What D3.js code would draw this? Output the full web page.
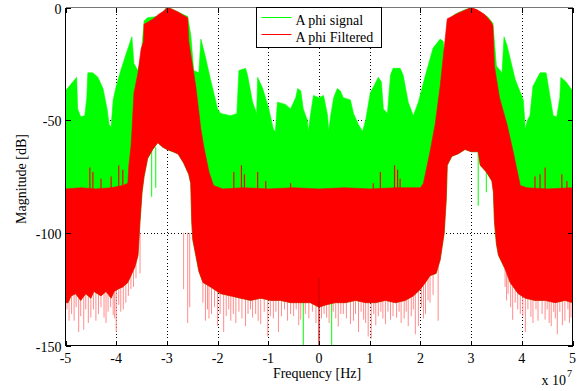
<!DOCTYPE html>
<html>
<head>
<meta charset="utf-8">
<script src="https://cdn.jsdelivr.net/npm/d3@7"></script>
<style>
  html, body { margin: 0; padding: 0; background: #fff; }
  svg { display: block; }
  svg text { font-family: "Liberation Serif", "Times New Roman", Times, serif; fill: #000; }
</style>
</head>
<body>
<svg id="chart" width="579" height="391" font-family="Liberation Serif, Times New Roman, serif"></svg>
<script>
// Frequency in units of 1e7 Hz, magnitude in dB.
// Upper envelope of the raw signal spectrum.
const signalUpper = [
  [-5.0,-37],[-4.89,-34],[-4.78,-31],[-4.76,-45],[-4.70,-48.5],[-4.62,-48],[-4.58,-40],[-4.56,-29],
  [-4.46,-29],[-4.36,-31],[-4.26,-36],[-4.18,-45],[-4.14,-52],[-4.10,-53],[-4.06,-41],[-4.00,-35],
  [-3.91,-28],[-3.81,-21],[-3.69,-13],[-3.65,-25],[-3.57,-28],[-3.51,-22],[-3.45,-6],[-3.38,-4.5],
  [-3.18,-4],[-3.06,-1.5],[-3.00,0],[-2.92,-0.5],[-2.73,-2.5],[-2.59,-4],[-2.53,-12],[-2.47,-28],
  [-2.37,-29],[-2.33,-14],[-2.24,-22],[-2.14,-32],[-2.00,-45],[-1.94,-47],[-1.74,-48],[-1.62,-47],
  [-1.58,-28],[-1.45,-27],[-1.41,-30],[-1.31,-42],[-1.23,-47],[-1.21,-31],[-1.11,-36],[-0.99,-45],
  [-0.90,-54],[-0.86,-55],[-0.82,-42],[-0.66,-43],[-0.56,-45],[-0.46,-40],[-0.42,-36],[-0.36,-37],
  [-0.31,-45],[-0.23,-50],[-0.21,-55],[-0.17,-48],[-0.11,-39],[0,-40],[0.09,-39],[0.17,-48],
  [0.19,-55],[0.23,-48],[0.29,-40],[0.36,-36],[0.42,-37],[0.48,-40],[0.62,-41],[0.68,-47],
  [0.78,-52],[0.86,-55],[0.92,-50],[1.01,-38],[1.17,-31],[1.23,-33],[1.27,-45],[1.35,-47],
  [1.41,-30],[1.46,-27],[1.60,-27],[1.66,-30],[1.76,-42],[1.86,-48],[1.96,-42],[2.10,-30],
  [2.25,-18],[2.39,-14],[2.45,-15],[2.49,-24],[2.53,-6],[2.68,-3],[2.88,-1],[3.00,0],
  [3.14,-1.5],[3.32,-4],[3.43,-7],[3.50,-26],[3.61,-29],[3.65,-13],[3.71,-17],[3.87,-32],
  [4.03,-41],[4.07,-54],[4.11,-50],[4.16,-48],[4.22,-35],[4.36,-29],[4.48,-29],[4.56,-40],
  [4.62,-48],[4.69,-48.5],[4.75,-40],[4.77,-31],[4.87,-33],[5.0,-37]
];

// Upper envelope of the filtered spectrum.
const filteredUpper = [
  [-5.0,-80.5],[-4.7,-80],[-4.4,-80.5],[-4.1,-80],[-3.87,-79],[-3.77,-78],[-3.75,-70],[-3.71,-62],
  [-3.69,-55],[-3.65,-38],[-3.57,-29],[-3.51,-18.5],[-3.46,-15],[-3.45,-7.4],[-3.38,-6.6],[-3.28,-5.2],
  [-3.16,-3],[-3.06,-1.6],[-3.0,0],[-2.92,-0.5],[-2.78,-2],[-2.67,-3.5],[-2.59,-4.5],[-2.57,-15],
  [-2.43,-35],[-2.33,-54],[-2.27,-62],[-2.17,-73],[-2.08,-79],[-1.9,-80.5],[-1.5,-80],[-1.0,-80.5],
  [-0.5,-80],[0,-80.5],[0.5,-80],[1.0,-80.5],[1.5,-80],[2.0,-80],[2.06,-78],[2.19,-64],
  [2.29,-52],[2.39,-35],[2.53,-5],[2.62,-4],[2.74,-2.5],[2.90,-1],[3.0,0],[3.12,-1],
  [3.26,-3],[3.38,-6],[3.43,-8],[3.46,-26],[3.56,-40],[3.71,-52],[3.83,-64],[3.97,-79],
  [4.1,-80],[4.5,-80.5],[5.0,-80]
];

// Lower envelope of the filtered spectrum (noise floor and in-band floor).
const filteredLower = [
  [-5.0,-131],[-4.95,-131],[-4.89,-128],[-4.80,-127],[-4.70,-130],[-4.60,-127],[-4.50,-129],[-4.44,-126],
  [-4.30,-128],[-4.20,-126],[-4.10,-129],[-4.04,-126],[-3.97,-125],[-3.87,-124],[-3.77,-122],[-3.69,-118],
  [-3.63,-115],[-3.57,-110],[-3.53,-95],[-3.49,-82],[-3.45,-75],[-3.38,-67],[-3.28,-63],[-3.18,-60],
  [-3.08,-62],[-3.0,-63],[-2.88,-64],[-2.78,-65],[-2.67,-69],[-2.57,-74],[-2.53,-78],[-2.51,-95],
  [-2.49,-103],[-2.43,-110],[-2.37,-117],[-2.29,-122],[-2.14,-124],[-1.94,-127],[-1.74,-128],[-1.55,-129],
  [-1.35,-130],[-1.15,-129],[-0.95,-130],[-0.76,-130],[-0.56,-131],[-0.36,-131],[-0.17,-131],[0,-133],
  [0.13,-132],[0.32,-131],[0.52,-131],[0.72,-130],[0.92,-131],[1.11,-131],[1.31,-130],[1.51,-131],
  [1.70,-130],[1.86,-128],[2.0,-125],[2.10,-122],[2.19,-119],[2.31,-118],[2.39,-112],[2.47,-100],
  [2.51,-85],[2.53,-70],[2.62,-66],[2.74,-65],[2.88,-63],[3.0,-64],[3.14,-64],[3.18,-70],
  [3.30,-73],[3.41,-77],[3.44,-82],[3.46,-95],[3.50,-105],[3.54,-110],[3.67,-116],[3.77,-122],
  [3.93,-127],[4.07,-129],[4.26,-130],[4.46,-130],[4.66,-131],[4.85,-130],[5.0,-131]
];

// Deep single-bin minima of the filtered spectrum.
const filteredDips = [
  [-4.97,-134],[-4.93,-139],[-4.88,-136],[-4.83,-139],[-4.79,-133],[-4.74,-144],[-4.70,-137],
  [-4.64,-143],[-4.60,-134],[-4.55,-140],[-4.50,-137.6],[-4.45,-134],[-4.40,-139],[-4.35,-136],
  [-4.30,-133],[-4.24,-137.6],[-4.20,-140],[-4.16,-135],[-4.11,-133],[-4.06,-136.5],[-4.03,-138],
  [-4.00,-144],[-3.95,-132],[-3.91,-135],[-3.86,-134],[-3.81,-131],[-3.76,-128],[-3.71,-125],
  [-3.66,-124],[-3.61,-120],[-3.53,-118],[-2.67,-125],[-2.59,-140],[-2.55,-133],
  [-2.29,-131],[-2.24,-139],[-2.20,-134],[-2.17,-138],[-2.12,-136],[-2.06,-133],[-2.00,-141.4],
  [-1.95,-136],[-1.88,-144],[-1.83,-137],[-1.78,-134],[-1.74,-139],[-1.69,-136],[-1.64,-140],
  [-1.58,-135],[-1.52,-138],[-1.45,-141.4],[-1.40,-136],[-1.35,-134],[-1.31,-137.6],[-1.25,-136],
  [-1.20,-139],[-1.15,-140.5],[-1.08,-135],[-1.01,-146],[-0.96,-137],[-0.90,-138],[-0.85,-135],
  [-0.80,-144],[-0.74,-137],[-0.68,-134],[-0.62,-139],[-0.56,-136],[-0.50,-137],[-0.45,-134],
  [-0.40,-141],[-0.36,-138.5],[-0.27,-136],[-0.20,-138],[-0.13,-135],[-0.06,-140],[0.05,-138],
  [0.10,-136],[0.15,-137.6],[0.20,-140],[0.28,-135],[0.33,-138],[0.38,-141.6],[0.43,-136],
  [0.48,-136],[0.54,-138],[0.62,-140.5],[0.68,-139],[0.72,-136],[0.78,-144],[0.83,-135],
  [0.88,-138.5],[0.92,-140],[0.97,-146],[1.03,-147],[1.08,-136],[1.12,-141],[1.17,-137],
  [1.22,-135],[1.26,-138],[1.31,-140.5],[1.36,-135],[1.41,-138.5],[1.46,-137],[1.53,-137.6],
  [1.58,-135],[1.62,-140],[1.68,-138],[1.72,-135],[1.76,-141.4],[1.82,-137],[1.86,-134],
  [1.90,-145],[1.96,-141.4],[2.02,-133],[2.06,-138],[2.10,-136],[2.15,-130],[2.19,-131],
  [2.25,-127.5],[2.35,-139],[3.67,-124],[3.70,-130],[3.73,-127],[3.78,-133],[3.82,-138.6],
  [3.87,-131],[3.92,-134],[3.97,-136],[4.02,-137],[4.07,-144],[4.12,-134],[4.18,-137.3],
  [4.22,-140],[4.28,-134],[4.32,-139],[4.40,-136],[4.46,-138.5],[4.50,-134],[4.54,-140],
  [4.58,-141.4],[4.63,-135],[4.66,-138],[4.70,-145],[4.75,-135],[4.80,-141],[4.85,-139],
  [4.91,-134],[4.94,-140],[4.97,-137.6]
];

// DC null of the filtered spectrum.
const filteredNulls = [[0,-150]];

// Narrow maxima of the filtered spectrum above its stop-band floor.
const filteredPeaks = [
  [-4.52,-71],[-4.46,-73],[-4.30,-76],[-4.10,-75],[-3.95,-70],[-3.87,-72],[-1.68,-73],[-1.53,-70],
  [-1.47,-74],[-1.21,-73],[-1.05,-77],[-0.56,-78],[1.07,-78],[1.21,-73],[1.49,-70],[1.55,-72],
  [1.60,-76],[4.26,-75],[4.36,-74],[4.46,-71],[4.79,-74],[4.89,-77]
];

// Deep minima of the raw signal spectrum.
const signalDips = [[-0.31,-150],[0.25,-150],[-3.30,-84],[-3.22,-80],[3.14,-88],[3.30,-82]];

const xTicks = [-5,-4,-3,-2,-1,0,1,2,3,4,5];
const yTicks = [-150,-100,-50,0];
const seriesNames = ["A phi signal", "A phi Filtered"];
const xLabel = "Frequency [Hz]";
const yLabel = "Magnitude [dB]";

const GREEN = "#00ff00", RED = "#ff0000", PINK = "#ff8c8c";
const FONT = "Liberation Serif";

const svg = d3.select("#chart");
const L = 65.5, R = 572.5, T = 7.5, B = 345.5;
const x = d3.scaleLinear().domain([-5, 5]).range([L, R]);
const y = d3.scaleLinear().domain([-150, 0]).range([B, T]);

svg.append("rect").attr("width", 579).attr("height", 391).attr("fill", "#fff");

const clip = svg.append("defs").append("clipPath").attr("id", "plot");
clip.append("rect").attr("x", L).attr("y", T).attr("width", R - L).attr("height", B - T);

// dotted grid behind the data
const grid = svg.append("g").attr("stroke", "#000").attr("stroke-width", 1)
  .attr("stroke-dasharray", "1,2.4").attr("shape-rendering", "crispEdges");
xTicks.slice(1, -1).forEach(t => grid.append("line")
  .attr("x1", Math.round(x(t)) + 0.5).attr("x2", Math.round(x(t)) + 0.5).attr("y1", T).attr("y2", B));
yTicks.slice(1, -1).forEach(t => grid.append("line")
  .attr("y1", Math.round(y(t)) + 0.5).attr("y2", Math.round(y(t)) + 0.5).attr("x1", L).attr("x2", R));
grid.append("line").attr("x1", L).attr("x2", R).attr("y1", T).attr("y2", T);

const plot = svg.append("g").attr("clip-path", "url(#plot)");
const line = d3.line().x(d => x(d[0])).y(d => y(d[1]));
const band = (upper, lower) => line(upper.concat(lower.slice().reverse())) + "Z";

// raw signal band
plot.append("path").attr("d", band(signalUpper, filteredLower))
  .attr("fill", GREEN).attr("stroke", GREEN).attr("stroke-width", 0.6);

// minima drawn under the filtered band so only their tails show
plot.append("g").selectAll("line").data(signalDips).join("line")
  .attr("x1", d => x(d[0])).attr("x2", d => x(d[0]))
  .attr("y1", d => y(d[1] < -100 ? -120 : -62)).attr("y2", d => y(d[1]))
  .attr("stroke", GREEN).attr("stroke-width", 1);
plot.append("g").selectAll("line").data(filteredDips).join("line")
  .attr("x1", d => x(d[0])).attr("x2", d => x(d[0]))
  .attr("y1", y(-100)).attr("y2", d => y(d[1]))
  .attr("stroke", PINK).attr("stroke-width", 1);

// filtered band
plot.append("path").attr("d", band(filteredUpper, filteredLower))
  .attr("fill", RED).attr("stroke", RED).attr("stroke-width", 0.6);

plot.append("g").selectAll("line").data(filteredPeaks).join("line")
  .attr("x1", d => x(d[0])).attr("x2", d => x(d[0]))
  .attr("y1", y(-81)).attr("y2", d => y(d[1]))
  .attr("stroke", RED).attr("stroke-width", 1.2);
plot.append("g").selectAll("line").data(filteredNulls).join("line")
  .attr("x1", d => x(d[0])).attr("x2", d => x(d[0]))
  .attr("y1", y(-120)).attr("y2", d => y(d[1]))
  .attr("stroke", "#cc0000").attr("stroke-width", 1.2);

// axes box with inward ticks on all four sides
const ax = svg.append("g").attr("stroke", "#000").attr("stroke-width", 1).attr("shape-rendering", "crispEdges");
ax.append("line").attr("x1", L).attr("x2", R).attr("y1", B).attr("y2", B);
ax.append("line").attr("x1", L).attr("x2", L).attr("y1", T).attr("y2", B);
ax.append("line").attr("x1", R).attr("x2", R).attr("y1", T).attr("y2", B);
ax.append("line").attr("x1", L).attr("x2", R).attr("y1", T).attr("y2", T).attr("stroke", "#777");
const TL = 5;
xTicks.forEach(t => {
  const px = Math.round(x(t)) + 0.5;
  ax.append("line").attr("x1", px).attr("x2", px).attr("y1", B).attr("y2", B - TL);
  ax.append("line").attr("x1", px).attr("x2", px).attr("y1", T).attr("y2", T + TL);
});
yTicks.forEach(t => {
  const py = Math.round(y(t)) + 0.5;
  ax.append("line").attr("x1", L).attr("x2", L + TL).attr("y1", py).attr("y2", py);
  ax.append("line").attr("x1", R).attr("x2", R - TL).attr("y1", py).attr("y2", py);
});

const FS = 14;
svg.append("g").selectAll("text").data(xTicks).join("text")
  .attr("font-family", FONT)
  .attr("x", d => x(d)).attr("y", 362.5).attr("text-anchor", "middle")
  .attr("font-size", FS).text(d => d);
svg.append("g").selectAll("text").data(yTicks).join("text")
  .attr("font-family", FONT)
  .attr("x", 61.5).attr("y", d => y(d) + 6).attr("text-anchor", "end")
  .attr("font-size", FS).text(d => d);

svg.append("text").attr("font-family", FONT).attr("x", 317).attr("y", 377.5).attr("text-anchor", "middle")
  .attr("font-size", 14).text(xLabel);
svg.append("text").attr("font-family", FONT).attr("transform", "translate(26,179) rotate(-90)")
  .attr("text-anchor", "middle").attr("font-size", 14).text(yLabel);

// exponent of the frequency axis
const ex = svg.append("text").attr("font-family", FONT).attr("x", 541.5).attr("y", 385).attr("font-size", 14);
ex.append("tspan").text("x 10");
ex.append("tspan").attr("dx", 1).attr("dy", -8).attr("font-size", 10).text("7");

// legend
const lg = svg.append("g");
lg.append("rect").attr("x", 256.5).attr("y", T).attr("width", 125).attr("height", 40)
  .attr("fill", "#fff").attr("stroke", "#000").attr("shape-rendering", "crispEdges");
[GREEN, RED].forEach((c, i) => {
  const ly = 17.5 + i * 17;
  lg.append("line").attr("x1", 261.5).attr("x2", 291.5).attr("y1", ly).attr("y2", ly)
    .attr("stroke", c).attr("stroke-width", 1);
  lg.append("text").attr("font-family", FONT).attr("x", 295.5).attr("y", ly + 7)
    .attr("font-size", 14).text(seriesNames[i]);
});
</script>
</body>
</html>
